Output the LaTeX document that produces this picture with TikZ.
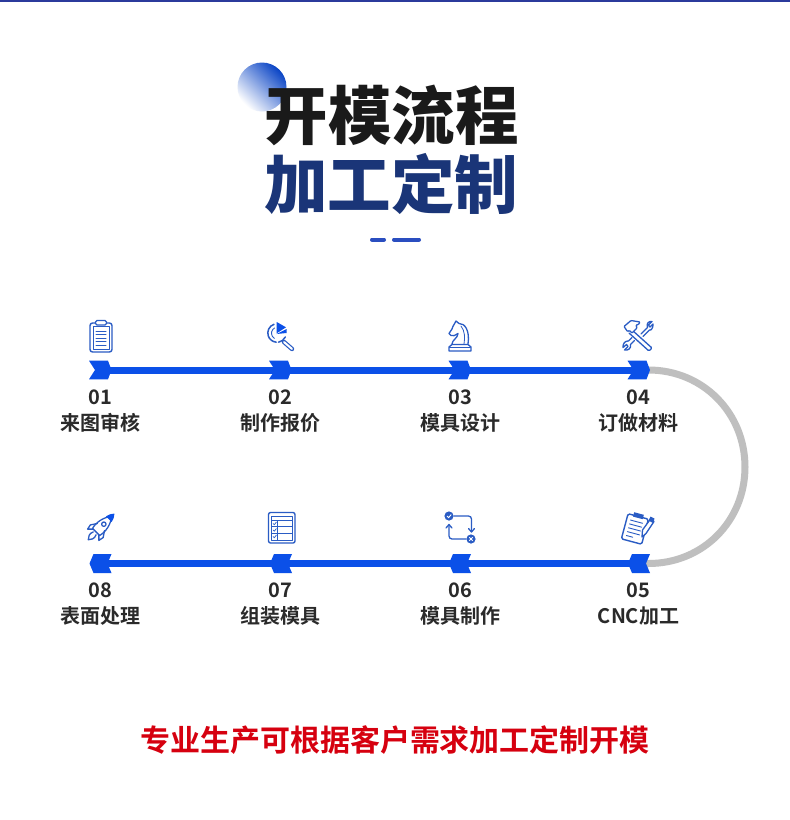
\documentclass[tikz,border=0pt]{standalone}
\usepackage{fontspec}
\usetikzlibrary{arrows.meta}
\setmainfont{Noto Sans CJK SC}
\newfontfamily\titlefont{Noto Sans CJK SC Black}
\newfontfamily\medfont{Noto Sans CJK SC Bold}
\newfontfamily\redfont{Noto Sans CJK SC Bold}
\definecolor{flow}{HTML}{0B50E8}
\definecolor{arcgrey}{HTML}{BFBFBF}
\definecolor{ink}{HTML}{1A1A1A}
\definecolor{navy}{HTML}{1A3578}
\definecolor{dashblue}{HTML}{2A4EC0}
\definecolor{ico}{HTML}{2A5CC4}
\definecolor{bar}{HTML}{2B3A9C}
\definecolor{redtxt}{HTML}{D6000F}
\definecolor{labelink}{HTML}{2A2A2A}
\tikzset{
 titlea/.style={font=\titlefont\fontsize{63.5}{64}\selectfont,text=ink,inner sep=0pt},
 titleb/.style={font=\titlefont\fontsize{63.5}{64}\selectfont,text=navy,inner sep=0pt},
 numtxt/.style={font=\medfont\fontsize{20}{20}\selectfont,text=labelink,inner sep=0pt},
 steptxt/.style={font=\medfont\fontsize{20}{20}\selectfont,text=labelink,inner sep=0pt},
 redline/.style={font=\redfont\fontsize{30}{30}\selectfont,text=redtxt,inner sep=0pt},
 flowline/.style={draw=flow,line width=7pt},
 greyline/.style={draw=arcgrey,line width=7pt},
 ic/.style={draw=ico,line width=1.3pt,line cap=round,line join=round},
 icf/.style={fill=flow,draw=none},
}
\newcommand{\chevR}[2]{\coordinate (#1) at (#2);
 \fill[flow] ([shift={(-11,-9.3)}]#1) -- ([shift={(8,-9.3)}]#1) -- ([shift={(11.5,0)}]#1) -- ([shift={(8,9.3)}]#1) -- ([shift={(-11,9.3)}]#1) -- ([shift={(-5,0)}]#1) -- cycle;}
\newcommand{\chevL}[2]{\coordinate (#1) at (#2);
 \fill[flow] ([shift={(-11,0)}]#1) -- ([shift={(-7,-9.5)}]#1) -- ([shift={(11,-9.5)}]#1) -- ([shift={(7,0)}]#1) -- ([shift={(11,9.5)}]#1) -- ([shift={(-7,9.5)}]#1) -- cycle;}
\begin{document}
\begin{tikzpicture}[x=1pt,y=-1pt]
\useasboundingbox (0,0) rectangle (790,820);
\fill[white] (0,0) rectangle (790,820);
\fill[bar] (0,0) rectangle (790,2);
% title
\shade[top color=white,bottom color=flow!85!black,shading angle=135] (262,87) circle (24.5);
\node[titlea] (t1) at (391.5,115) {开模流程};
\node[titleb] (t2) at (391,184) {加工定制};
\draw[dashblue,line width=4pt,line cap=round] (372,239.5) -- (384,239.5);
\draw[dashblue,line width=4pt,line cap=round] (394,239.5) -- (419,239.5);
% connectors
\coordinate (c1) at (100,370);
\coordinate (c4) at (638.5,370);
\coordinate (c5) at (638.5,563.5);
\coordinate (c8) at (100,563.5);
\coordinate (bend) at (745,467);
\draw[greyline] (c4) -- ++(10,0) .. controls (703,370) and (745,413) .. (bend) .. controls (745,521) and (703,563.5) .. (648.5,563.5) -- (c5);
\draw[flowline] (c1) -- (c4);
\draw[flowline] (c5) -- (c8);
\chevR{c1}{100,370}\chevR{c2}{280,370}\chevR{c3}{459.5,370}\chevR{c4}{638.5,370}
\chevL{c5}{639,563.5}\chevL{c6}{460,563.5}\chevL{c7}{281,563.5}\chevL{c8}{100.5,563.5}
% labels
\node[numtxt] (n1) at (100,397) {01};\node[steptxt] (s1) at (100,423) {来图审核};
\node[numtxt] (n2) at (280,397) {02};\node[steptxt] (s2) at (280,423) {制作报价};
\node[numtxt] (n3) at (460,397) {03};\node[steptxt] (s3) at (460,423) {模具设计};
\node[numtxt] (n4) at (638.5,397) {04};\node[steptxt] (s4) at (638.5,423) {订做材料};
\node[numtxt] (n5) at (638.5,590) {05};\node[steptxt] (s5) at (638.5,616) {CNC加工};
\node[numtxt] (n6) at (460,590) {06};\node[steptxt] (s6) at (460,616) {模具制作};
\node[numtxt] (n7) at (280,590) {07};\node[steptxt] (s7) at (280,616) {组装模具};
\node[numtxt] (n8) at (100,590) {08};\node[steptxt] (s8) at (100,616) {表面处理};
\node[redline] (r) at (395,740) {专业生产可根据客户需求加工定制开模};
% icon 01 clipboard
\draw[ic,line width=1.4pt,rounded corners=2.5pt] (90,323) rectangle (112,352);
\draw[ic,fill=white,rounded corners=1.5pt] (95.5,320.5) rectangle (106.5,325);
\draw[ic,line width=.8pt] (93,326) rectangle (109,349);
\foreach \yy in {331,334.5,338,341.5,345} \draw[ic,line width=1pt] (96,\yy) -- (106,\yy);
% icon 02 magnifier
\draw[ic,line width=1.5pt] (274,324.3) arc (-109:-265:9.2);
\draw[ic,line width=1.5pt] (285.3,337) arc (25:80:9.2);
\draw[ic,line width=.9pt] (274.5,328) arc (-120:-240:6);
\fill[icf] (276.7,322) -- (286,327.3) -- (276.7,333.3) -- cycle;
\fill[icf] (276.7,334) -- (286.5,329) -- (286.5,333) -- cycle;
\draw[ico,line width=4.4pt,line cap=round] (284,342) -- (292,349);
\draw[white,line width=2pt,line cap=round] (284,342) -- (292,349);
% icon 03 knight
\draw[ic,fill=white] (449,351) -- (449,347) -- (452,344.5) -- (468,344.5) -- (471,347) -- (471,351) -- cycle;
\draw[ic,line width=.8pt] (449.5,347.5) -- (470.5,347.5);
\draw[ic] (452,344) .. controls (452,340) and (458,338) .. (458,333.5) .. controls (455,335) and (453,337) .. (451,335.5) -- (449,333.5) -- (452,329) .. controls (453,325) and (455,324) .. (456,321) -- (459,323.5) .. controls (465,323) and (470,331) .. (468,344);
\draw[ic,line width=.8pt] (461,326) .. controls (465,331) and (465,338) .. (464,344);
% icon 04 tools
\draw[ic,rounded corners=1pt] (632,330) -- (652,348) -- (649,351) -- (629,333);
\draw[ic,fill=white,rounded corners=.8pt] (624,326.5) -- (631,320.5) -- (640,322) -- (638.5,324.5) -- (636,325) -- (637,328) -- (632,333) -- (629.5,330.5) -- (627.5,331.5) -- cycle;
\draw[ic] (641,334) -- (647.5,327.5) .. controls (646,323) and (649,321) .. (652,321.5) -- (648.5,325) -- (650,327) -- (653,324) .. controls (653.5,328) and (650.5,331) .. (649.5,330) -- (643,336.5);
\draw[ic] (634.5,340.5) -- (630.5,344.5) .. controls (631.5,348) and (628,351) .. (624.5,350) -- (628,346.5) -- (626.5,344.5) -- (623,347.5) .. controls (622.5,343.5) and (625.5,340.5) .. (628.5,341) -- (632,337.5);
% icon 05 clipboard + pencil
\begin{scope}[shift={(635,528.5)},rotate=-15]
 \draw[ic,line width=1.4pt,fill=white,rounded corners=1.5pt] (-10.5,-12.5) rectangle (10.5,13.5);
 \fill[ico] (-5,-15.5) rectangle (5,-11);
 \foreach \yy in {-7,-3,1,5} \draw[ic,line width=.9pt] (-6.5,\yy) -- (6,\yy);
 \draw[ic,line width=.9pt] (-6.5,9) -- (0,9);
\end{scope}
\draw[ic,fill=white] (642,537) -- (642.5,530) -- (650.5,519) -- (654,521.5) -- (646,533.5) -- cycle;
\fill[ico] (648.5,520.5) -- (650.5,516.5) -- (654.5,518.5) -- (653,523) -- cycle;
% icon 06 check / cross cycle
\draw[ic] (454,516) -- (468.5,516) arc (-90:0:3) -- (471.5,531);
\draw[ic] (468.5,528.5) -- (471.5,532) -- (474.5,528.5);
\draw[ic] (466,539) -- (452,539) arc (90:180:3) -- (449,525);
\draw[ic] (446,528) -- (449,524.5) -- (452,528);
\fill[ico] (449,516) circle (4.6);
\draw[white,line width=.9pt] (447,516) -- (448.6,517.6) -- (451.2,514.6);
\fill[ico] (471,539) circle (4.6);
\draw[white,line width=.9pt] (469.3,537.3) -- (472.7,540.7) (472.7,537.3) -- (469.3,540.7);
% icon 07 table
\draw[ic,line width=1.4pt,rounded corners=2pt] (268.5,512.5) rectangle (295,543);
\draw[ic,line width=.8pt] (271.5,516) rectangle (292,540);
\draw[ic,line width=.8pt] (271.5,520.5) -- (292,520.5) (271.5,526.5) -- (292,526.5) (271.5,533) -- (292,533) (277.5,520.5) -- (277.5,540);
\foreach \yy in {523.5,530,536.5} \draw[ic,line width=.7pt] (273,\yy) -- (274.3,\yy+1.2) -- (276.3,\yy-1.3);
% icon 08 rocket
\begin{scope}[shift={(101,527)},rotate=-45]
 \draw[ic,fill=white] (-5,7) .. controls (-7,0) and (-5,-9) .. (0,-15) .. controls (5,-9) and (7,0) .. (5,7) -- cycle;
 \fill[icf] (0,-19) .. controls (-2,-17) and (-3,-15) .. (-4,-11) -- (4,-11) .. controls (3,-15) and (2,-17) .. (0,-19) -- cycle;
 \draw[ic] (0,-4) circle (2.2);
 \draw[ic] (-5,0) -- (-9,6) -- (-8,11) -- (-4,7);
 \draw[ic] (5,0) -- (9,6) -- (8,11) -- (4,7);
 \draw[ic] (-2,9) .. controls (-4,13) and (-2,16) .. (0,18) .. controls (2,16) and (4,13) .. (2,9);
\end{scope}
\end{tikzpicture}
\end{document}
